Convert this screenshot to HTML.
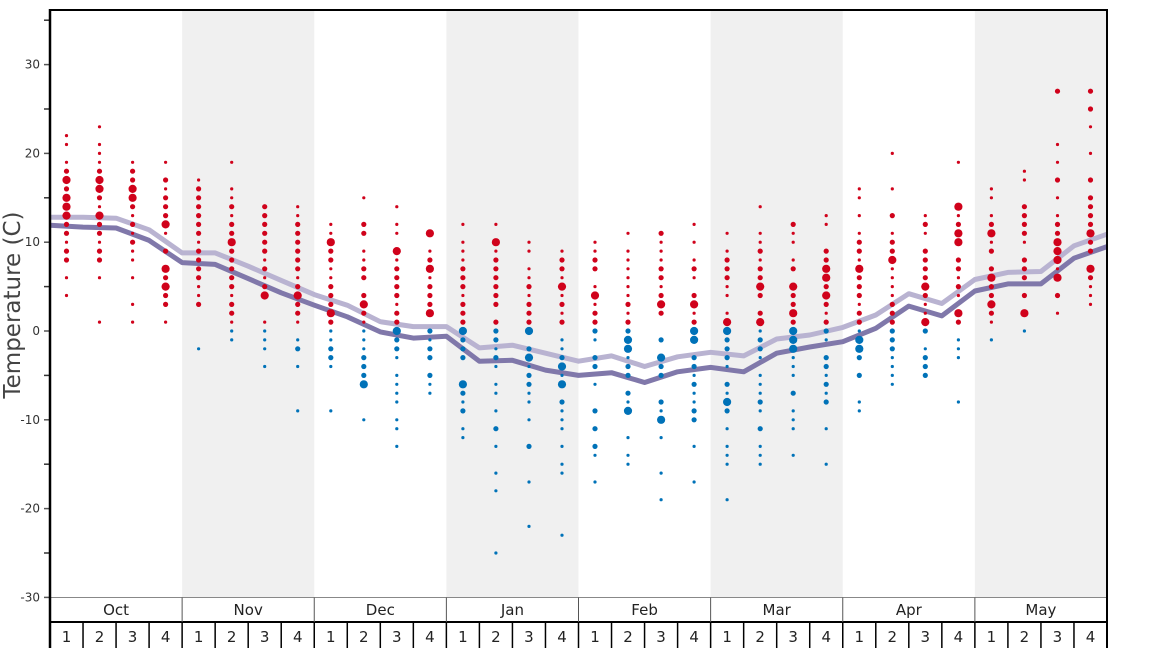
<!DOCTYPE html>
<html><head><meta charset="utf-8"><style>
body{margin:0;background:#fff;width:1168px;height:648px;overflow:hidden}
svg{display:block;font-family:"DejaVu Sans","Liberation Sans",sans-serif}
</style></head><body>
<svg id="chart" width="1168" height="648">
<g id="bands"></g>
<g id="lines"></g>
<g id="dots"></g>
<g id="axes"></g>
<text transform="translate(20,305) rotate(-90)" text-anchor="middle" font-size="23" fill="#444">Temperature (C)</text>
</svg>
<script>
const months=["Oct","Nov","Dec","Jan","Feb","Mar","Apr","May"];
const weekLabels=["1","2","3","4"];
const yTicks=[30,20,10,0,-10,-20,-30];
const yMinorTicks=[35,25,15,5,-5,-15,-25];
// week observations "temp:size" (size 1 small,2 medium,3 large)
const weekObs=[
"22:1,21:1,19:1,18:2,17:3,16:2,15:3,14:3,13:3,12:2,11:2,10:1,9:2,8:2,6:1,4:1",
"23:1,21:1,20:1,19:1,18:2,17:3,16:3,15:2,14:1,13:3,12:2,11:2,10:1,9:2,8:2,6:1,1:1",
"19:1,18:2,17:2,16:3,15:3,14:2,13:1,12:2,11:1,10:2,9:1,8:1,6:1,3:1,1:1",
"19:1,17:2,16:1,15:2,14:2,13:2,12:3,11:1,9:2,7:3,6:2,5:3,4:2,3:2,1:1",
"17:1,16:2,15:2,14:2,13:2,12:2,11:2,10:1,9:2,8:2,7:2,6:2,5:1,4:1,3:2,-2:1",
"19:1,16:1,15:1,14:2,13:1,12:2,11:2,10:3,9:2,8:2,7:2,6:2,5:2,4:1,3:2,2:2,1:1,0:1,-1:1",
"14:2,13:2,12:2,11:2,10:2,9:2,8:1,7:2,6:1,5:2,4:3,1:1,0:1,-1:1,-2:1,-4:1",
"14:1,13:1,12:2,11:2,10:2,9:2,8:2,7:2,6:1,5:2,4:3,3:2,2:2,1:1,-1:1,-2:2,-4:1,-9:1",
"12:1,11:1,10:3,9:2,8:2,7:1,6:1,5:2,4:2,3:2,2:3,1:2,0:1,-1:1,-2:2,-3:2,-4:1,-9:1",
"15:1,12:2,11:2,9:1,8:1,7:2,6:2,4:2,3:3,2:2,1:1,0:1,-1:1,-2:1,-3:2,-4:2,-5:2,-6:3,-10:1",
"14:1,12:1,11:1,9:3,8:1,7:2,6:2,5:2,4:2,3:1,2:2,1:2,0:3,-1:2,-2:2,-3:1,-5:1,-6:1,-7:1,-8:1,-10:1,-11:1,-13:1",
"11:3,9:1,8:2,7:3,6:1,5:2,4:2,3:2,2:3,0:2,-1:1,-2:2,-3:2,-5:2,-6:1,-7:1",
"12:1,10:1,9:1,8:1,7:2,6:2,5:2,4:1,3:2,2:2,1:2,0:3,-1:2,-2:2,-3:2,-6:3,-7:2,-8:1,-9:2,-11:1,-12:1",
"12:1,10:3,9:1,8:2,7:2,6:2,5:2,4:2,3:2,1:2,0:2,-1:2,-2:1,-3:2,-4:1,-6:1,-7:1,-9:1,-11:2,-13:1,-16:1,-18:1,-25:1",
"10:1,9:1,7:1,6:1,5:2,4:1,3:2,2:2,1:2,0:3,-2:2,-3:3,-4:1,-5:2,-6:2,-7:1,-8:1,-10:1,-13:2,-17:1,-22:1",
"9:1,8:2,7:2,6:1,5:3,4:1,3:2,2:1,1:2,-1:1,-2:1,-3:2,-4:3,-5:1,-6:3,-8:2,-9:1,-10:1,-11:1,-13:1,-15:1,-16:1,-23:1",
"10:1,9:1,8:2,7:2,5:1,4:3,3:1,2:2,1:2,0:2,-1:1,-3:2,-4:2,-6:1,-9:2,-11:2,-13:2,-14:1,-17:1",
"11:1,9:1,8:1,7:1,6:1,5:1,4:1,3:2,2:1,1:2,0:2,-1:3,-2:3,-3:1,-4:2,-5:2,-7:2,-8:1,-9:3,-12:1,-14:1,-15:1",
"11:2,10:1,9:1,8:1,7:2,6:2,5:1,4:2,3:3,2:2,-1:2,-3:3,-4:2,-5:2,-8:2,-9:1,-10:3,-12:1,-16:1,-19:1",
"12:1,10:1,8:1,7:2,6:1,4:2,3:3,2:1,1:2,0:3,-1:3,-3:2,-4:2,-5:1,-6:2,-7:1,-8:1,-9:2,-10:2,-13:1,-17:1",
"11:1,9:1,8:2,7:2,6:2,5:1,4:1,2:1,1:3,0:3,-1:2,-2:2,-3:2,-4:1,-6:2,-7:1,-8:3,-9:2,-11:1,-13:1,-14:1,-15:1,-19:1",
"14:1,11:1,10:1,9:2,8:1,7:2,6:2,5:3,4:2,2:2,1:3,0:1,-1:2,-2:2,-3:1,-5:1,-6:1,-7:1,-8:2,-9:1,-11:2,-13:1,-14:1,-15:1",
"12:2,11:1,10:1,8:1,7:2,5:3,4:2,3:2,2:3,1:2,0:3,-1:3,-2:3,-3:1,-4:1,-5:1,-7:2,-9:1,-10:1,-11:1,-14:1",
"13:1,12:1,9:2,8:2,7:3,6:3,5:2,4:3,3:2,2:1,1:2,0:2,-1:1,-3:2,-4:2,-5:1,-6:2,-7:1,-8:2,-11:1,-15:1",
"16:1,15:1,13:1,11:1,10:2,9:2,8:1,7:3,6:2,5:2,4:2,3:1,2:2,1:2,0:1,-1:3,-2:3,-3:2,-5:2,-8:1,-9:1",
"20:1,16:1,13:2,11:1,10:2,9:2,8:3,7:1,6:1,5:1,4:1,3:2,2:2,1:2,0:2,-1:2,-2:2,-3:1,-4:1,-5:1,-6:1",
"13:1,12:2,11:1,9:2,8:2,7:2,6:2,5:3,4:2,3:1,2:1,1:3,0:2,-2:1,-3:2,-4:2,-5:2",
"19:1,14:3,13:1,12:2,11:3,10:3,8:2,7:2,6:1,5:2,4:1,2:3,1:2,-1:1,-2:1,-3:1,-8:1",
"16:1,15:1,13:1,12:2,11:3,10:1,9:2,7:2,6:3,5:2,4:2,3:3,2:2,1:1,-1:1",
"18:1,17:1,14:2,13:2,12:2,11:2,10:1,8:2,7:2,6:2,4:2,2:3,0:1",
"27:2,21:1,19:1,17:2,15:1,13:1,12:2,11:2,10:3,9:3,8:3,7:1,6:3,4:2,2:1",
"27:2,25:2,23:1,20:1,17:2,15:2,14:2,13:2,12:2,11:3,10:2,9:2,7:3,6:2,5:1,4:1,3:1"
];
const lightLine=[12.8,12.8,12.7,11.4,8.8,8.8,7.3,5.7,4.1,2.9,1.05,0.5,0.5,-1.9,-1.6,-2.5,-3.4,-2.8,-4.0,-2.9,-2.4,-2.8,-0.9,-0.45,0.4,1.8,4.2,3.1,5.8,6.6,6.7,9.6,10.9];
const darkLine=[11.9,11.7,11.6,10.2,7.7,7.5,5.9,4.3,2.9,1.6,-0.1,-0.8,-0.6,-3.4,-3.3,-4.4,-5.0,-4.7,-5.8,-4.6,-4.1,-4.6,-2.5,-1.8,-1.2,0.3,2.8,1.7,4.5,5.3,5.3,8.2,9.5];

const NS="http://www.w3.org/2000/svg";
const X0=50,X1=1107,Y0=10,Y1=597.5;
const nW=32,wW=(X1-X0)/nW;
const y=t=>331-t*8.88;
const xBound=i=>X0+i*wW;
const xWeek=i=>X0+(i+0.5)*wW;
function mk(tag,attrs,parent){const e=document.createElementNS(NS,tag);for(const k in attrs)e.setAttribute(k,attrs[k]);parent.appendChild(e);return e;}
const bands=document.getElementById('bands'),lines=document.getElementById('lines'),dots=document.getElementById('dots'),axes=document.getElementById('axes');
months.forEach((m,i)=>{if(i%2==1){const r=mk('rect',{x:xBound(i*4),y:Y0,width:wW*4,height:Y1-Y0,fill:'#f0f0f0'},bands);

}});
function drawLine(vals,color,name){const p=vals.map((v,i)=>xBound(i).toFixed(1)+','+y(v).toFixed(1)).join(' ');
const l=mk('polyline',{points:p,fill:'none',stroke:color,'stroke-width':5,'stroke-linejoin':'round'},lines);

}
drawLine(lightLine,'#b9b3d1','light-average-line');
drawLine(darkLine,'#8078aa','dark-average-line');
const rad=[0,1.6,2.6,4.1];
weekObs.forEach((s,i)=>{s.split(',').forEach(p=>{const [t,sz]=p.split(':').map(Number);
const c=mk('circle',{cx:xWeek(i).toFixed(1),cy:y(t).toFixed(1),r:rad[sz],fill:t>0?'#d0021b':'#0072b8'},dots);

});});
// axes
yTicks.forEach(t=>{mk('line',{x1:44,x2:50,y1:y(t),y2:y(t),stroke:'#555','stroke-width':1.5},axes);
const tx=mk('text',{x:40,y:y(t)+4,'text-anchor':'end','font-size':12,fill:'#333'},axes);tx.textContent=t;

});
yMinorTicks.forEach(t=>{mk('line',{x1:44,x2:50,y1:y(t),y2:y(t),stroke:'#333','stroke-width':1.5},axes);});
mk('line',{x1:X0,x2:X1,y1:Y1,y2:Y1,stroke:'#888','stroke-width':1},axes);
mk('line',{x1:X0,x2:X1,y1:622,y2:622,stroke:'#000','stroke-width':2},axes);
months.forEach((m,i)=>{if(i>0)mk('line',{x1:xBound(i*4),x2:xBound(i*4),y1:Y1,y2:622,stroke:'#555','stroke-width':1},axes);
const tx=mk('text',{x:xBound(i*4)+wW*2,y:615,'text-anchor':'middle','font-size':15,fill:'#222'},axes);tx.textContent=m;


weekLabels.forEach((w,j)=>{const k=i*4+j;
if(k>0)mk('line',{x1:xBound(k),x2:xBound(k),y1:622,y2:648,stroke:'#000','stroke-width':1.5},axes);
const wt=mk('text',{x:xWeek(k),y:642,'text-anchor':'middle','font-size':15,fill:'#222'},axes);wt.textContent=w;

});});
mk('line',{x1:X0,x2:X0,y1:Y0-1,y2:648,stroke:'#000','stroke-width':2.5},axes);
mk('line',{x1:X1,x2:X1,y1:Y0-1,y2:648,stroke:'#000','stroke-width':2},axes);
mk('line',{x1:X0,x2:X1+1,y1:Y0,y2:Y0,stroke:'#000','stroke-width':2},axes);
</script>
</body></html>
